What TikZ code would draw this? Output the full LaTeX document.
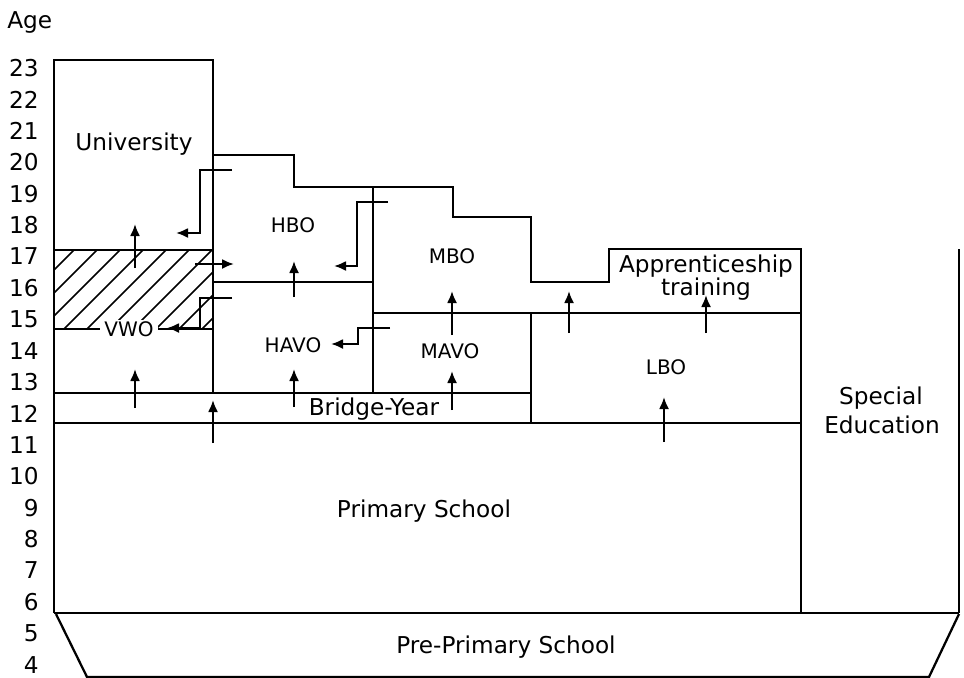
\documentclass[tikz,border=0pt]{standalone}
\usepackage{fontspec}
\setmainfont{DejaVu Sans}
\usetikzlibrary{arrows.meta}
\begin{document}
\begin{tikzpicture}[x=0.75pt,y=-0.75pt,
  ln/.style={line width=1.7pt, line join=miter},
  hatchln/.style={line width=1.2pt},
  arr/.style={line width=1.6pt,-{Latex[length=9pt,width=7.5pt]}},
  big/.style={font=\fontsize{17.4}{19}\selectfont, anchor=base, inner sep=0pt},
  small/.style={font=\fontsize{15}{17}\selectfont, anchor=base, inner sep=0pt},
  agelab/.style={font=\fontsize{17.4}{19}\selectfont, anchor=east, inner sep=0pt}]

\useasboundingbox (0,0) rectangle (964,678);

% hatching of VWO upper part
\begin{scope}
  \clip (54,250) rectangle (213,329);
  \foreach \c in {301,324,...,560}
    \draw[hatchln] ({\c-329},329) -- ({\c-250},250);
\end{scope}

% outlines
\draw[ln] (54,613) -- (54,60) -- (213,60) -- (213,393);
\draw[ln] (54,250) -- (213,250);
\draw[ln] (54,329) -- (213,329);
\draw[ln] (213,155) -- (294,155) -- (294,187) -- (453,187) -- (453,217)
          -- (531,217) -- (531,282) -- (609,282) -- (609,249) -- (801,249) -- (801,613);
\draw[ln] (373,187) -- (373,393);
\draw[ln] (213,282) -- (373,282);
\draw[ln] (373,313) -- (801,313);
\draw[ln] (531,313) -- (531,423);
\draw[ln] (54,393) -- (531,393);
\draw[ln] (54,423) -- (801,423);
\draw[ln] (54,613) -- (959,613);
\draw[ln] (959,249) -- (959,613);
\draw[ln] (56,614) -- (87,677) -- (929,677) -- (959,614);

% arrows
\coordinate (a1s) at (135,268); \coordinate (a1e) at (135,224);
\coordinate (a2s) at (135,408); \coordinate (a2e) at (135,369);
\coordinate (a3s) at (213,443); \coordinate (a3e) at (213,400);
\coordinate (a4s) at (294,297); \coordinate (a4e) at (294,261);
\coordinate (a5s) at (294,407); \coordinate (a5e) at (294,369);
\coordinate (a6s) at (452,335); \coordinate (a6e) at (452,291);
\coordinate (a7s) at (452,410); \coordinate (a7e) at (452,371);
\coordinate (a8s) at (569,333); \coordinate (a8e) at (569,291);
\coordinate (a9s) at (706,333); \coordinate (a9e) at (706,295);
\coordinate (a10s) at (664,442); \coordinate (a10e) at (664,397);
\coordinate (h1s) at (195,264); \coordinate (h1e) at (234,264);
\foreach \n in {a1,a2,a3,a4,a5,a6,a7,a8,a9,a10,h1}
  \draw[arr] (\n s) -- (\n e);

\coordinate (b1s) at (232,170); \coordinate (b1e) at (176,233);
\draw[arr] (b1s) -- (200,170) -- (200,233) -- (b1e);
\coordinate (b2s) at (232,298); \coordinate (b2e) at (167,328);
\draw[arr] (b2s) -- (200,298) -- (200,328) -- (b2e);
\coordinate (b3s) at (388,202); \coordinate (b3e) at (334,266);
\draw[arr] (b3s) -- (357,202) -- (357,266) -- (b3e);
\coordinate (b4s) at (390,328); \coordinate (b4e) at (331,344);
\draw[arr] (b4s) -- (358,328) -- (358,344) -- (b4e);

% labels
\node[big, anchor=base west] (age) at (7,28) {Age};
\foreach \a in {4,...,23}
  \node[agelab] (age\a) at (39,{68+(23-\a)*31.4}) {\a};

\node[big] (univ) at (134,150) {University};
\node[small, fill=white, inner xsep=3pt, inner ysep=1pt] (vwo) at (129,336) {VWO};
\node[small] (hbo) at (293,232) {HBO};
\node[small] (havo) at (293,352) {HAVO};
\node[small] (mbo) at (452,263) {MBO};
\node[small] (mavo) at (450,358) {MAVO};
\node[small] (lbo) at (666,374) {LBO};
\node[big] (appr) at (706,272) {Apprenticeship};
\node[big] (trai) at (706,295) {training};
\node[big] (bridge) at (374,415) {Bridge-Year};
\node[big] (prim) at (424,517) {Primary School};
\node[big] (spec1) at (881,404) {Special};
\node[big] (spec2) at (882,433) {Education};
\node[big] (pre) at (506,653) {Pre-Primary School};
\end{tikzpicture}
\end{document}
